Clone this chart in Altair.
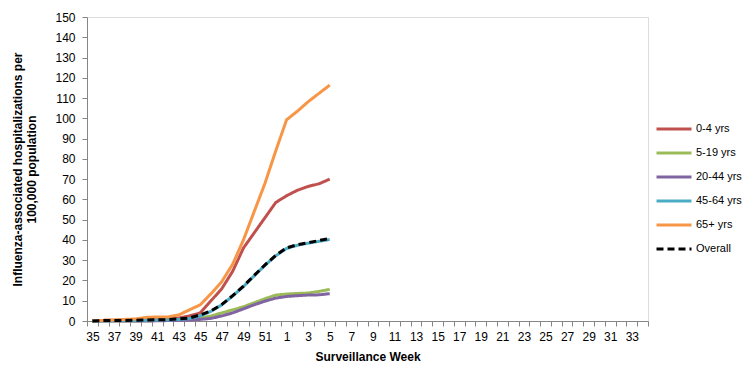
import altair as alt
import pandas as pd

# x-axis categories (surveillance weeks)
weeks_all = ["35", "36", "37", "38", "39", "40", "41", "42", "43", "44", "45", "46",
             "47", "48", "49", "50", "51", "52", "1", "2", "3", "4", "5", "6", "7",
             "8", "9", "10", "11", "12", "13", "14", "15", "16", "17", "18", "19",
             "20", "21", "22", "23", "24", "25", "26", "27", "28", "29", "30", "31",
             "32", "33", "34"]

# weeks with data
data_weeks = ["35", "36", "37", "38", "39", "40", "41", "42", "43", "44", "45", "46",
              "47", "48", "49", "50", "51", "52", "1", "2", "3", "4", "5"]

age_0_4 = [0, 0.3, 0.4, 0.5, 0.6, 0.7, 0.8, 0.9, 1.5, 2.5, 4, 10, 16, 24.5, 36, 43.5,
           51, 58.5, 61.8, 64.5, 66.4, 67.7, 70]
age_5_19 = [0, 0, 0, 0, 0, 0.1, 0.2, 0.3, 0.5, 1, 1.5, 2.5, 4, 5.5, 7, 9, 11, 12.8,
            13.3, 13.6, 13.8, 14.6, 15.6]
age_20_44 = [0, 0, 0, 0, 0, 0, 0.1, 0.2, 0.3, 0.5, 0.8, 1.3, 2.5, 4, 6, 8, 9.8, 11.3,
             12.1, 12.5, 12.8, 12.9, 13.5]
age_45_64 = [0, 0.1, 0.2, 0.2, 0.3, 0.4, 0.5, 0.6, 0.8, 1.2, 2.5, 4.8, 8, 12.3, 17,
             22.3, 27.5, 32.2, 35.8, 37.4, 38.4, 39.3, 40.2]
age_65 = [0, 0.3, 0.5, 0.8, 1, 1.8, 2, 2, 3, 5.5, 8, 13.5, 19.5, 28, 40, 54, 68, 84,
          99.3, 103.5, 108.2, 112.3, 116.4]
overall = [0, 0.2, 0.3, 0.3, 0.4, 0.5, 0.6, 0.7, 1, 1.5, 3, 5, 8.2, 12.5, 17.2, 22.5,
           27.7, 32.4, 36.1, 37.6, 38.6, 39.7, 40.7]

series_names = ["0-4 yrs", "5-19 yrs", "20-44 yrs", "45-64 yrs", "65+ yrs", "Overall"]
series_values = [age_0_4, age_5_19, age_20_44, age_45_64, age_65, overall]
colors = ["#C0504D", "#9BBB59", "#8064A2", "#4BACC6", "#F79646", "#000000"]
dashes = [[1, 0], [1, 0], [1, 0], [1, 0], [1, 0], [7, 4]]

rows = []
for name, vals in zip(series_names, series_values):
    for i, (w, v) in enumerate(zip(data_weeks, vals)):
        rows.append({"series": name, "week": w, "idx": i, "value": v})
df = pd.DataFrame(rows)

FONT = "Liberation Sans"
legend_kw = dict(title=None, orient="none", legendX=568, legendY=100,
                 symbolType="stroke", symbolSize=1225, symbolStrokeWidth=3,
                 labelFont=FONT, labelFontSize=11, labelColor="#000000",
                 labelOffset=3, rowPadding=0, clipHeight=24)

chart = alt.Chart(df).mark_line(strokeWidth=3).encode(
    x=alt.X("week:N", sort=weeks_all,
            scale=alt.Scale(type="band", domain=weeks_all, paddingInner=0, paddingOuter=0),
            bandPosition=0.5,
            axis=alt.Axis(title="Surveillance Week", tickBand="extent", labelAngle=0,
                          labelExpr="toNumber(datum.value) % 2 == 1 ? datum.label : ''",
                          labelOverlap=False, labelFont=FONT, labelFontSize=12,
                          labelColor="#000000", labelPadding=5, tickSize=5,
                          tickColor="#868686", domainColor="#868686",
                          titleFont=FONT, titleFontSize=12, titleFontWeight="bold",
                          titleColor="#000000", titlePadding=9)),
    y=alt.Y("value:Q", scale=alt.Scale(domain=[0, 150], nice=False),
            axis=alt.Axis(values=list(range(0, 151, 10)), grid=False,
                          title=["Influenza-associated hospitalizations per",
                                 "100,000  population"],
                          labelFont=FONT, labelFontSize=12, labelColor="#000000",
                          labelPadding=7, tickSize=5, tickColor="#868686",
                          domainColor="#868686", titleFont=FONT, titleFontSize=12,
                          titleFontWeight="bold", titleColor="#000000",
                          titlePadding=16)),
    color=alt.Color("series:N", scale=alt.Scale(domain=series_names, range=colors),
                    legend=alt.Legend(**legend_kw)),
    strokeDash=alt.StrokeDash("series:N",
                              scale=alt.Scale(domain=series_names, range=dashes),
                              legend=alt.Legend(**legend_kw)),
    order=alt.Order("idx:Q"),
).properties(
    width=561, height=304,
    autosize=alt.AutoSizeParams(type="none"),
    padding={"left": 79, "top": 9, "right": 100, "bottom": 50},
).configure_view(stroke=None).configure(background="white")

chart.save("out.html", embed_options={"renderer": "svg", "actions": False})
